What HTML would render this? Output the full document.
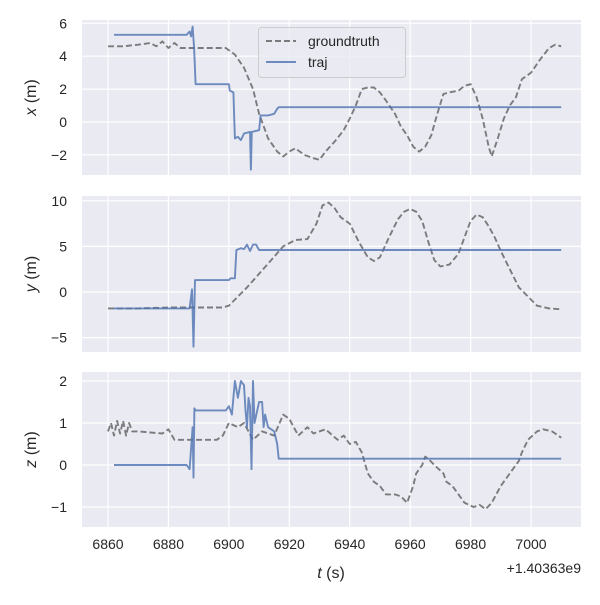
<!DOCTYPE html>
<html><head><meta charset="utf-8"><style>
body{margin:0;background:#fff}
svg{font-family:"Liberation Sans","DejaVu Sans",sans-serif;}
</style></head><body>
<svg id="s" width="600" height="600" xmlns="http://www.w3.org/2000/svg"></svg>
<script>
const S=document.getElementById('s');
let h='';
const X=t=>108+(t-6860)*3.0214;
const panels=[
 {top:20,bot:175,y:v=>122-16.45*v,ticks:[6,4,2,0,-2],lab:['6','4','2','0','\u22122'],name:'x',
  gt:[[6860,4.6],[6865,4.6],[6870,4.7],[6874,4.8],[6876,4.6],[6878,4.9],[6880,4.5],[6882,4.8],[6884,4.5],[6890,4.5],[6895,4.5],[6899,4.5],[6902,4.1],[6905,3.3],[6908,2.0],[6910,0.5],[6913,-1.0],[6916,-1.8],[6918,-2.1],[6920,-1.8],[6922,-1.6],[6925,-2.0],[6928,-2.2],[6930,-2.3],[6932,-1.8],[6935,-1.2],[6938,-0.5],[6940,0.2],[6942,1.0],[6944,2.0],[6946,2.1],[6948,2.1],[6950,1.8],[6952,1.3],[6955,0.5],[6957,-0.3],[6959,-0.8],[6961,-1.5],[6963,-1.8],[6965,-1.5],[6967,-0.8],[6969,0.5],[6971,1.7],[6973,1.8],[6976,1.9],[6978,2.2],[6980,2.3],[6982,1.5],[6984,0.2],[6986,-1.5],[6987,-2.1],[6989,-1.0],[6991,0.2],[6993,1.0],[6995,1.5],[6997,2.6],[7000,3.0],[7003,3.8],[7006,4.5],[7008,4.7],[7010,4.6]],
  tr:[[6862,5.3],[6886,5.3],[6887,5.5],[6887.5,5.2],[6888,5.8],[6888.5,4.5],[6889,2.3],[6900,2.3],[6900.3,1.9],[6901.5,1.8],[6902,-1.0],[6903,-0.9],[6904,-1.1],[6905,-0.7],[6907,-0.6],[6907.3,-2.9],[6907.6,-0.6],[6910,-0.5],[6910.5,0.4],[6913,0.4],[6915,0.5],[6916,0.8],[6916.5,0.9],[7010,0.9]]},
 {top:196,bot:352,y:v=>292-9.12*v,ticks:[10,5,0,-5],lab:['10','5','0','\u22125'],name:'y',
  gt:[[6860,-1.8],[6870,-1.8],[6880,-1.7],[6898,-1.7],[6900,-1.5],[6903,-0.5],[6906,0.5],[6910,2],[6914,3.5],[6918,5],[6922,5.7],[6926,5.8],[6929,7.5],[6931,9.5],[6933,9.8],[6935,9.2],[6937,8.2],[6940,7.5],[6943,5.5],[6946,3.8],[6948,3.4],[6950,3.8],[6953,6],[6956,8],[6958,8.8],[6960,9.1],[6962,8.8],[6964,7.8],[6966,5.5],[6968,3.5],[6970,2.8],[6973,3],[6976,4.2],[6978,6],[6980,7.8],[6982,8.5],[6984,8.2],[6986,7.2],[6988,6],[6990,4.5],[6993,2.5],[6996,0.5],[6999,-0.5],[7002,-1.5],[7006,-1.8],[7010,-1.9]],
  tr:[[6862,-1.8],[6887,-1.8],[6887.8,0.3],[6888.3,-6],[6888.8,1.3],[6900,1.3],[6900.5,1.5],[6902,1.5],[6902.5,4.6],[6904,4.8],[6905,4.7],[6906,5.2],[6907,4.5],[6908,5.2],[6909,5.2],[6910,4.6],[6912,4.6],[6913,4.6],[7010,4.6]]},
 {top:372,bot:527,y:v=>465-42*v,ticks:[2,1,0,-1],lab:['2','1','0','\u22121'],name:'z',
  gt:[[6860,0.8],[6861,1.0],[6862,0.7],[6863,1.05],[6864,0.75],[6865,1.05],[6866,0.7],[6867,1.0],[6868,0.8],[6870,0.8],[6878,0.75],[6880,0.85],[6882,0.6],[6896,0.6],[6898,0.7],[6900,1.0],[6903,0.9],[6905,1.0],[6908,0.6],[6911,0.8],[6915,0.7],[6918,1.2],[6920,1.1],[6923,0.7],[6926,0.9],[6928,0.75],[6932,0.85],[6936,0.6],[6938,0.7],[6940,0.5],[6942,0.55],[6944,0.3],[6946,-0.2],[6948,-0.4],[6950,-0.5],[6952,-0.7],[6955,-0.7],[6957,-0.75],[6959,-0.9],[6961,-0.5],[6962,-0.2],[6964,0.0],[6965,0.2],[6966,0.15],[6968,0.0],[6971,-0.2],[6972,-0.4],[6974,-0.5],[6976,-0.7],[6978,-0.9],[6981,-1.0],[6983,-0.95],[6985,-1.05],[6987,-0.9],[6990,-0.5],[6993,-0.2],[6996,0.1],[6997,0.3],[6999,0.6],[7002,0.8],[7004,0.85],[7007,0.8],[7010,0.65]],
  tr:[[6862,0],[6886,0],[6887,-0.1],[6888,0.9],[6888.3,-0.3],[6888.6,1.35],[6889,1.3],[6899,1.3],[6900,1.4],[6901,1.2],[6902,2.0],[6903,1.6],[6904,2.0],[6905,1.9],[6905.5,1.3],[6906,0.9],[6906.5,1.6],[6907,1.4],[6907.5,-0.1],[6908,2.0],[6908.5,1.0],[6910,1.5],[6911,1.5],[6911.5,0.9],[6912,1.2],[6913,0.9],[6915,0.8],[6916,0.5],[6916.5,0.15],[7010,0.15]]}
];
const xt=[6860,6880,6900,6920,6940,6960,6980,7000];
panels.forEach((p,i)=>{
 h+=`<rect x="82" y="${p.top}" width="499" height="${p.bot-p.top}" fill="#eaeaf2"/>`;
 xt.forEach(t=>h+=`<line x1="${X(t)}" x2="${X(t)}" y1="${p.top}" y2="${p.bot}" stroke="#fff" stroke-width="1.2"/>`);
 p.ticks.forEach((v,j)=>{const y=p.y(v);h+=`<line x1="82" x2="581" y1="${y}" y2="${y}" stroke="#fff" stroke-width="1.2"/><text x="67" y="${y+5}" text-anchor="end" font-size="14" fill="#262626">${p.lab[j]}</text>`;});
 const pl=(d,st)=>`<polyline fill="none" stroke-linejoin="round" points="${d.map(a=>X(a[0]).toFixed(1)+','+p.y(a[1]).toFixed(1)).join(' ')}" ${st}/>`;
 h+=pl(p.gt,'stroke="#555" stroke-opacity="0.75" stroke-width="1.9" stroke-dasharray="6,3"');
 h+=pl(p.tr,'stroke="#4c72b0" stroke-opacity="0.8" stroke-width="1.9"');
 const cy=(p.top+p.bot)/2;
 h+=`<text transform="translate(36,${cy}) rotate(-90)" text-anchor="middle" font-size="16" fill="#262626"><tspan font-style="italic">${p.name}</tspan> (m)</text>`;
});
xt.forEach(t=>h+=`<text x="${X(t)}" y="549" text-anchor="middle" font-size="14" fill="#262626">${t}</text>`);
h+=`<text x="331" y="578" text-anchor="middle" font-size="16" fill="#262626"><tspan font-style="italic">t</tspan> (s)</text>`;
h+=`<text x="581" y="573" text-anchor="end" font-size="14" fill="#262626">+1.40363e9</text>`;
h+=`<rect x="258.5" y="27.5" width="147" height="50" rx="3" fill="#eaeaf2" fill-opacity="0.8" stroke="#ccc"/>`;
h+=`<line x1="266" x2="296" y1="41" y2="41" stroke="#555" stroke-opacity="0.75" stroke-width="1.9" stroke-dasharray="6,3"/><text x="308" y="46" font-size="14" fill="#262626">groundtruth</text>`;
h+=`<line x1="266" x2="296" y1="62" y2="62" stroke="#4c72b0" stroke-opacity="0.8" stroke-width="1.9"/><text x="308" y="67" font-size="14" fill="#262626">traj</text>`;
S.innerHTML=h;
</script>
</body></html>
